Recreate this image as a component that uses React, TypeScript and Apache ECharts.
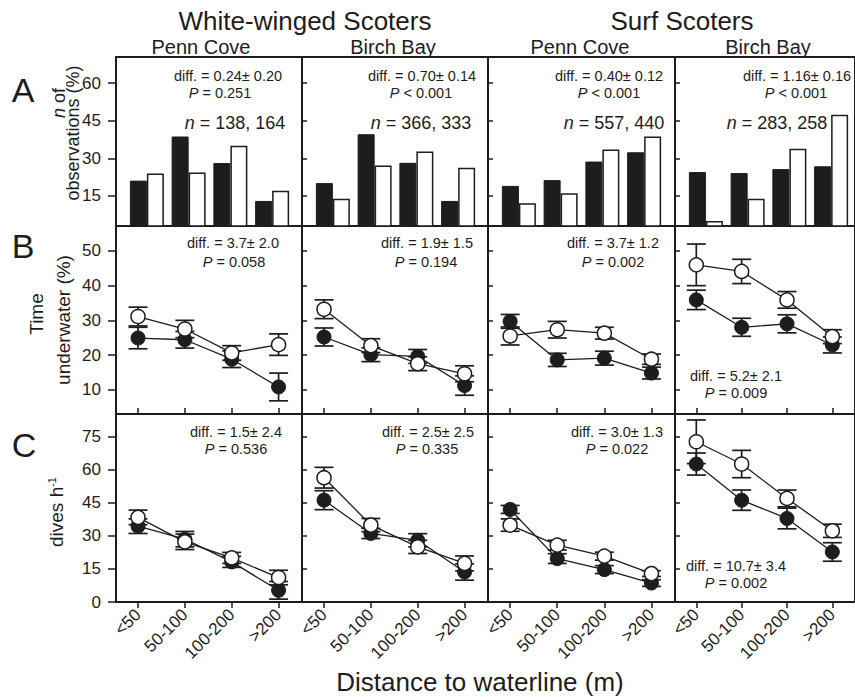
import React, { useEffect, useRef } from 'react';
import * as echarts from 'echarts';

// ---------------- data ----------------
const categories = ['<50', '50-100', '100-200', '>200'];
const species = ['White-winged Scoters', 'Surf Scoters'];
const sites = ['Penn Cove', 'Birch Bay', 'Penn Cove', 'Birch Bay'];

// A: n of observations (%)  [panel][distance class]
const obsFilled = [
  [21.1, 38.7, 28.1, 13.0],
  [20.1, 39.6, 28.2, 13.0],
  [19.0, 21.3, 28.7, 32.4],
  [24.5, 24.1, 25.7, 26.8],
];
const obsOpen = [
  [23.9, 24.3, 35.0, 17.1],
  [13.9, 27.1, 32.7, 26.2],
  [12.1, 16.1, 33.5, 38.7],
  [5.0, 13.9, 33.8, 47.4],
];
const obsDiff = ['0.24\u00b1 0.20', '0.70\u00b1 0.14', '0.40\u00b1 0.12', '1.16\u00b1 0.16'];
const obsP = ['= 0.251', '< 0.001', '< 0.001', '< 0.001'];
const obsN = ['138, 164', '366, 333', '557, 440', '283, 258'];

// B: time underwater (%)
const tuFilled = [
  [24.9, 24.4, 18.8, 10.8],
  [25.2, 20.1, 19.6, 11.2],
  [29.7, 18.6, 19.1, 14.8],
  [35.9, 28.0, 29.0, 22.9],
];
const tuFilledSE = [
  [3.1, 2.4, 2.4, 4.0],
  [2.6, 2.0, 2.0, 2.8],
  [2.0, 1.9, 2.0, 1.7],
  [2.8, 2.6, 2.6, 2.3],
];
const tuOpen = [
  [31.1, 27.5, 20.6, 23.0],
  [33.2, 22.7, 17.5, 14.6],
  [25.5, 27.3, 26.3, 18.8],
  [46.0, 44.1, 35.9, 25.3],
];
const tuOpenSE = [
  [2.7, 2.5, 2.1, 3.1],
  [2.7, 2.0, 2.0, 2.3],
  [2.6, 2.4, 1.7, 1.5],
  [6.0, 3.5, 2.4, 2.0],
];
const tuDiff = ['3.7\u00b1 2.0', '1.9\u00b1 1.5', '3.7\u00b1 1.2', '5.2\u00b1 2.1'];
const tuP = ['= 0.058', '= 0.194', '= 0.002', '= 0.009'];

// C: dives per hour
const drFilled = [
  [34.4, 28.5, 18.2, 5.3],
  [46.2, 31.1, 28.0, 13.6],
  [42.0, 19.7, 14.7, 8.6],
  [62.6, 46.2, 37.9, 22.7],
];
const drFilledSE = [
  [3.3, 3.5, 2.5, 4.0],
  [4.3, 2.3, 3.0, 3.7],
  [1.8, 2.2, 1.8, 1.5],
  [5.0, 4.6, 4.7, 4.2],
];
const drOpen = [
  [38.4, 27.3, 20.0, 11.1],
  [56.4, 34.9, 25.0, 17.5],
  [34.9, 25.8, 20.8, 12.9],
  [72.7, 62.6, 47.0, 32.3],
];
const drOpenSE = [
  [3.3, 3.5, 2.5, 3.3],
  [4.7, 3.0, 3.0, 3.4],
  [2.8, 2.2, 1.8, 1.3],
  [9.9, 6.2, 3.8, 3.0],
];
const drDiff = ['1.5\u00b1 2.4', '2.5\u00b1 2.5', '3.0\u00b1 1.3', '10.7\u00b1 3.4'];
const drP = ['= 0.536', '= 0.335', '= 0.022', '= 0.002'];

const obsTicks = [15, 30, 45, 60];
const tuTicks = [10, 20, 30, 40, 50];
const drTicks = [0, 15, 30, 45, 60, 75];

// ---------------- layout ----------------
const W = 855;
const H = 697;
const PL = [116, 302, 488, 675];
const PR = [302, 488, 675, 862];
const ROWS: [number, number][] = [
  [57, 226],
  [226, 414],
  [414, 602],
];
const INK = '#1e1c1d';
const FONT = '"Liberation Sans", Arial, Helvetica, sans-serif';

function buildOption() {
  const grid: any[] = [];
  const xAxis: any[] = [];
  const yAxis: any[] = [];
  const series: any[] = [];
  const graphic: any[] = [];
  let gi = 0;

  const addGrid = (left: number, top: number, width: number, height: number, border: boolean) => {
    grid.push({
      left,
      top,
      width,
      height,
      show: border,
      borderColor: INK,
      borderWidth: border ? 2 : 0,
      backgroundColor: 'transparent',
    });
    return gi++;
  };

  const yAxisCfg = (idx: number, p: number, min: number, max: number, ticks: number[]) => ({
    gridIndex: idx,
    type: 'value',
    position: 'left',
    min,
    max,
    axisLine: { show: false, onZero: false },
    splitLine: { show: false },
    axisTick: {
      show: true,
      inside: p > 0,
      length: p > 0 ? 5 : 8,
      customValues: ticks,
      lineStyle: { color: INK, width: 1.5 },
    },
    axisLabel: {
      show: p === 0,
      customValues: ticks,
      fontSize: 17,
      fontFamily: FONT,
      color: INK,
      margin: 15,
    },
  });

  // ---- Row A: bars ----
  for (let p = 0; p < 4; p++) {
    const [t, b] = ROWS[0];
    const f = addGrid(PL[p], t, PR[p] - PL[p], b - t, true);
    xAxis.push({ gridIndex: f, type: 'value', min: 0, max: 1, show: false, axisLine: { onZero: false } });
    yAxis.push(yAxisCfg(f, p, 3, 70.4, obsTicks));

    const g = addGrid(PL[p] + 10, t, 167, b - t, false);
    xAxis.push({ gridIndex: g, type: 'category', data: categories, show: false, boundaryGap: true });
    yAxis.push({ gridIndex: g, type: 'value', min: 3, max: 70.4, show: false });
    series.push({
      type: 'bar',
      xAxisIndex: g,
      yAxisIndex: g,
      data: obsFilled[p],
      barWidth: 17,
      barGap: '0%',
      itemStyle: { color: INK, borderColor: INK, borderWidth: 1 },
      z: 2,
    });
    series.push({
      type: 'bar',
      xAxisIndex: g,
      yAxisIndex: g,
      data: obsOpen[p],
      barWidth: 17,
      barGap: '0%',
      itemStyle: { color: '#ffffff', borderColor: INK, borderWidth: 1.5 },
      z: 2,
    });
  }

  // ---- Rows B and C: points ----
  const rowsData = [
    { filled: tuFilled, fse: tuFilledSE, open: tuOpen, ose: tuOpenSE, min: 3, max: 57.2, ticks: tuTicks },
    { filled: drFilled, fse: drFilledSE, open: drOpen, ose: drOpenSE, min: 0, max: 85.3, ticks: drTicks },
  ];
  rowsData.forEach((rd, ri) => {
    const r = ri + 1;
    const [t, b] = ROWS[r];
    for (let p = 0; p < 4; p++) {
      const g = addGrid(PL[p], t, PR[p] - PL[p], b - t, true);
      xAxis.push({
        gridIndex: g,
        type: 'value',
        position: 'bottom',
        min: -0.47,
        max: 3.5,
        axisLine: { show: false, onZero: false },
        splitLine: { show: false },
        axisTick: {
          show: true,
          inside: r === 1,
          length: 6,
          customValues: [0, 1, 2, 3],
          lineStyle: { color: INK, width: 1.5 },
        },
        axisLabel: {
          show: r === 2,
          customValues: [0, 1, 2, 3],
          formatter: (v: number) => categories[Math.round(v)],
          rotate: 45,
          fontSize: 17,
          fontFamily: FONT,
          color: INK,
          margin: 10,
        },
      });
      yAxis.push(yAxisCfg(g, p, rd.min, rd.max, rd.ticks));

      const fPts = rd.filled[p].map((v, i) => [i, v]);
      const oPts = rd.open[p].map((v, i) => [i, v]);
      const lineCommon = {
        type: 'line',
        xAxisIndex: g,
        yAxisIndex: g,
        showSymbol: false,
        lineStyle: { color: INK, width: 1.3 },
        z: 2,
      };
      series.push({ ...lineCommon, data: fPts });
      series.push({ ...lineCommon, data: oPts });

      const err = [
        ...rd.filled[p].map((v, i) => [i, v, rd.fse[p][i]]),
        ...rd.open[p].map((v, i) => [i, v, rd.ose[p][i]]),
      ];
      series.push({
        type: 'custom',
        xAxisIndex: g,
        yAxisIndex: g,
        data: err,
        encode: { x: 0, y: 1 },
        z: 3,
        renderItem: (params: any, api: any) => {
          const x = api.value(0);
          const y = api.value(1);
          const se = api.value(2);
          const top = api.coord([x, y + se]);
          const bot = api.coord([x, y - se]);
          const hw = 9.5;
          const st = { stroke: INK, lineWidth: 1.7 };
          return {
            type: 'group',
            children: [
              { type: 'line', shape: { x1: top[0], y1: top[1], x2: bot[0], y2: bot[1] }, style: st },
              { type: 'line', shape: { x1: top[0] - hw, y1: top[1], x2: top[0] + hw, y2: top[1] }, style: st },
              { type: 'line', shape: { x1: bot[0] - hw, y1: bot[1], x2: bot[0] + hw, y2: bot[1] }, style: st },
            ],
          };
        },
      });
      series.push({
        type: 'scatter',
        xAxisIndex: g,
        yAxisIndex: g,
        data: fPts,
        symbol: 'circle',
        symbolSize: 14,
        itemStyle: { color: INK, borderColor: INK, borderWidth: 1, opacity: 1 },
        z: 4,
      });
      series.push({
        type: 'scatter',
        xAxisIndex: g,
        yAxisIndex: g,
        data: oPts,
        symbol: 'circle',
        symbolSize: 14,
        itemStyle: { color: '#ffffff', borderColor: INK, borderWidth: 1.5, opacity: 1 },
        z: 5,
      });
    }
  });

  // ---- texts ----
  const txt = (x: number, y: number, text: string, fontSize: number, extra: any = {}) => ({
    type: 'text',
    x,
    y,
    z: 100,
    ...extra,
    style: {
      text,
      fontSize,
      fontFamily: FONT,
      fill: INK,
      textAlign: 'center',
      textVerticalAlign: 'middle',
      rich: {
        i: { fontStyle: 'italic', fontSize, fontFamily: FONT, fill: INK },
        sup: { fontSize: Math.round(fontSize * 0.58), fontFamily: FONT, fill: INK, verticalAlign: 'top' },
      },
    },
  });

  graphic.push(txt(305, 21, species[0], 26));
  graphic.push(txt(682, 21, species[1], 26));
  const siteX = [201, 393, 580, 768];
  sites.forEach((s, p) => graphic.push(txt(siteX[p], 47, s, 20)));

  graphic.push(txt(23, 90, 'A', 34));
  graphic.push(txt(23, 246, 'B', 34));
  graphic.push(txt(24, 445, 'C', 34));

  const rot = { rotation: Math.PI / 2 };
  graphic.push(txt(59, 103, '{i|n} of', 18, rot));
  graphic.push(txt(73, 133, 'observations (%)', 18, rot));
  graphic.push(txt(36, 314, 'Time', 19, rot));
  graphic.push(txt(63, 320, 'underwater (%)', 19, rot));
  graphic.push(txt(56, 512, 'dives h{sup|-1}', 19, rot));

  graphic.push(txt(480, 682, 'Distance to waterline (m)', 26));

  const obsDiffPos = [[228, 76], [422, 76], [609, 76], [797, 76]];
  const obsPPos = [[220, 93], [421, 93], [609, 93], [796, 93]];
  const obsNPos = [[235, 123], [421, 123], [614, 123], [777, 123]];
  const tuDiffPos = [[233, 243], [427, 243], [613, 243], [736, 376]];
  const tuPPos = [[234, 262], [426, 262], [613, 262], [736, 393]];
  const drDiffPos = [[236, 432], [428, 432], [617, 432], [736, 566]];
  const drPPos = [[236, 449], [427, 449], [617, 449], [736, 583]];
  const fs = 14.5;
  for (let p = 0; p < 4; p++) {
    graphic.push(txt(obsDiffPos[p][0], obsDiffPos[p][1], 'diff. = ' + obsDiff[p], fs));
    graphic.push(txt(obsPPos[p][0], obsPPos[p][1], '{i|P} ' + obsP[p], fs));
    graphic.push(txt(obsNPos[p][0], obsNPos[p][1], '{i|n} = ' + obsN[p], 18));
    graphic.push(txt(tuDiffPos[p][0], tuDiffPos[p][1], 'diff. = ' + tuDiff[p], fs));
    graphic.push(txt(tuPPos[p][0], tuPPos[p][1], '{i|P} ' + tuP[p], fs));
    graphic.push(txt(drDiffPos[p][0], drDiffPos[p][1], 'diff. = ' + drDiff[p], fs));
    graphic.push(txt(drPPos[p][0], drPPos[p][1], '{i|P} ' + drP[p], fs));
  }

  return {
    animation: false,
    backgroundColor: '#ffffff',
    grid,
    xAxis,
    yAxis,
    series,
    graphic,
  };
}

export default function App() {
  const ref = useRef<HTMLDivElement>(null);
  useEffect(() => {
    if (!ref.current) return;
    const chart = echarts.init(ref.current, undefined, { renderer: 'svg', width: W, height: H });
    chart.setOption(buildOption() as any);
    return () => chart.dispose();
  }, []);
  return (
    <div
      ref={ref}
      style={{ position: 'absolute', left: 0, top: 0, width: W, height: H, background: '#fff' }}
    />
  );
}
